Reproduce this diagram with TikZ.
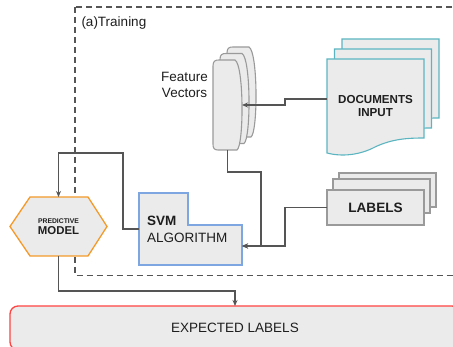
\documentclass[tikz,border=0pt]{standalone}
\usepackage{fontspec}
\setmainfont{Liberation Sans}
\usetikzlibrary{arrows.meta,calc}

\definecolor{boxfill}{HTML}{EBEBEB}
\definecolor{docedge}{HTML}{5BB5C1}
\definecolor{greyedge}{HTML}{9A9A9A}
\definecolor{svmedge}{HTML}{7EA6E0}
\definecolor{modeledge}{HTML}{F59A2A}
\definecolor{outedge}{HTML}{FF4444}
\definecolor{wire}{HTML}{555555}
\definecolor{ink}{HTML}{1E1E1E}

% stacked feature-vector card, top-left corner at (#1,#2)
\newcommand\fvcard[2]{%
  \path[fvshape] (#1,#2+6) .. controls (#1,#2+1) and (#1+2,#2) .. (#1+6,#2)
    -- (#1+22,#2) .. controls (#1+31,#2+5) and (#1+31,#2+85) .. (#1+24,#2+90)
    -- (#1+5,#2+90) .. controls (#1+1,#2+90) and (#1,#2+88) .. (#1,#2+84) -- cycle;}
% document sheet with a wavy lower edge, top-left corner at (#1,#2)
\newcommand\docsheet[2]{%
  \path[docshape] (#1,#2) -- (#1+97,#2) -- (#1+97,#2+79)
    .. controls (#1+80,#2+79) and (#1+65,#2+80) .. (#1+48,#2+88)
    .. controls (#1+33,#2+96) and (#1+15,#2+98) .. (#1,#2+94) -- cycle;}

\begin{document}
\begin{tikzpicture}[x=1pt,y=-1pt,
  every node/.style={outer sep=0pt, inner sep=0pt, text=ink},
  fvshape/.style={draw=greyedge, fill=boxfill, line width=1.1pt},
  docshape/.style={draw=docedge, fill=boxfill, line width=1.1pt},
  labbox/.style={draw=greyedge, fill=boxfill, line width=1.1pt},
  conn/.style={draw=wire, line width=1.4pt, -{Stealth[length=6pt,width=5pt]}},
  frame/.style={draw=wire, line width=1.3pt, dash pattern=on 6pt off 4pt},
  txt/.style={font=\fontsize{13.5}{16}\selectfont},
  boldtxt/.style={font=\fontsize{13.6}{16}\selectfont\bfseries},
]
\useasboundingbox (0,0) rectangle (453,347);

% training frame
\draw[frame] (75,7) rectangle (470,275.5);
\node[txt, anchor=west] (title) at (81.5,23) {(a)Training};

% feature vectors
\fvcard{227}{47}
\fvcard{220}{53.5}
\fvcard{213}{60}
\node[minimum width=29pt, minimum height=90pt] (fv) at (227.5,105) {};
\node[txt, align=center] (fvlabel) at (184.5,85) {Feature\\Vectors};

% documents input
\docsheet{342}{39}
\docsheet{334.5}{49}
\docsheet{327}{59}
\node[font=\fontsize{11.6}{13}\selectfont\bfseries, align=center,
      minimum width=97pt, minimum height=94pt] (docs) at (375.5,106) {DOCUMENTS\\INPUT};

% labels
\path[labbox] (339,173) rectangle (436,207);
\path[labbox] (333,179) rectangle (430,213);
\node[labbox, boldtxt, minimum width=97pt, minimum height=35pt] (lab) at (375.5,207.5) {LABELS};

% svm algorithm
\path[draw=svmedge, fill=boxfill, line width=1.3pt]
  (139,193) -- (188,193) -- (188,225) -- (242,225) -- (242,265) -- (139,265) -- cycle;
\node[minimum width=103pt, minimum height=72pt, inner xsep=8pt, text width=87pt,
      align=left, font=\fontsize{13.5}{17}\selectfont] (svm) at (190.5,229)
  {\textbf{SVM}\\ALGORITHM};

% predictive model
\path[draw=modeledge, fill=boxfill, line width=1.3pt]
  (10,226.5) -- (30,197) -- (88,197) -- (107,226.5) -- (88,256) -- (30,256) -- cycle;
\node[minimum width=97pt, minimum height=59pt, align=center] (pm) at (58.5,226.5)
  {{\fontsize{6.8}{8}\selectfont\bfseries PREDICTIVE}\\[-0.5pt]
   {\fontsize{11.4}{13}\selectfont\bfseries MODEL}};

% expected labels
\node[draw=outedge, fill=boxfill, line width=1.3pt, rounded corners=8pt, txt,
      minimum width=450pt, minimum height=44pt] (exp) at (235,328) {EXPECTED LABELS};

% connectors
\coordinate (svmin) at ($(svm.east)+(0,17)$);
\draw[conn] ($(docs.west)+(0,-7)$) -- ++(-42,0) |- (fv.east);
\draw[conn] (fv.south) -- ++(0,22) -| ($(svmin)+(19,0)$) -- (svmin);
\draw[conn] (lab.west) -- ++(-42,0) |- (svmin);
\draw[conn] (svm.west) -- ++(-16,0) |- ($(pm.north)+(0,-44)$) -- (pm.north);
\draw[conn] (pm.south) -- ++(0,35) -| (exp.north);
\end{tikzpicture}
\end{document}
